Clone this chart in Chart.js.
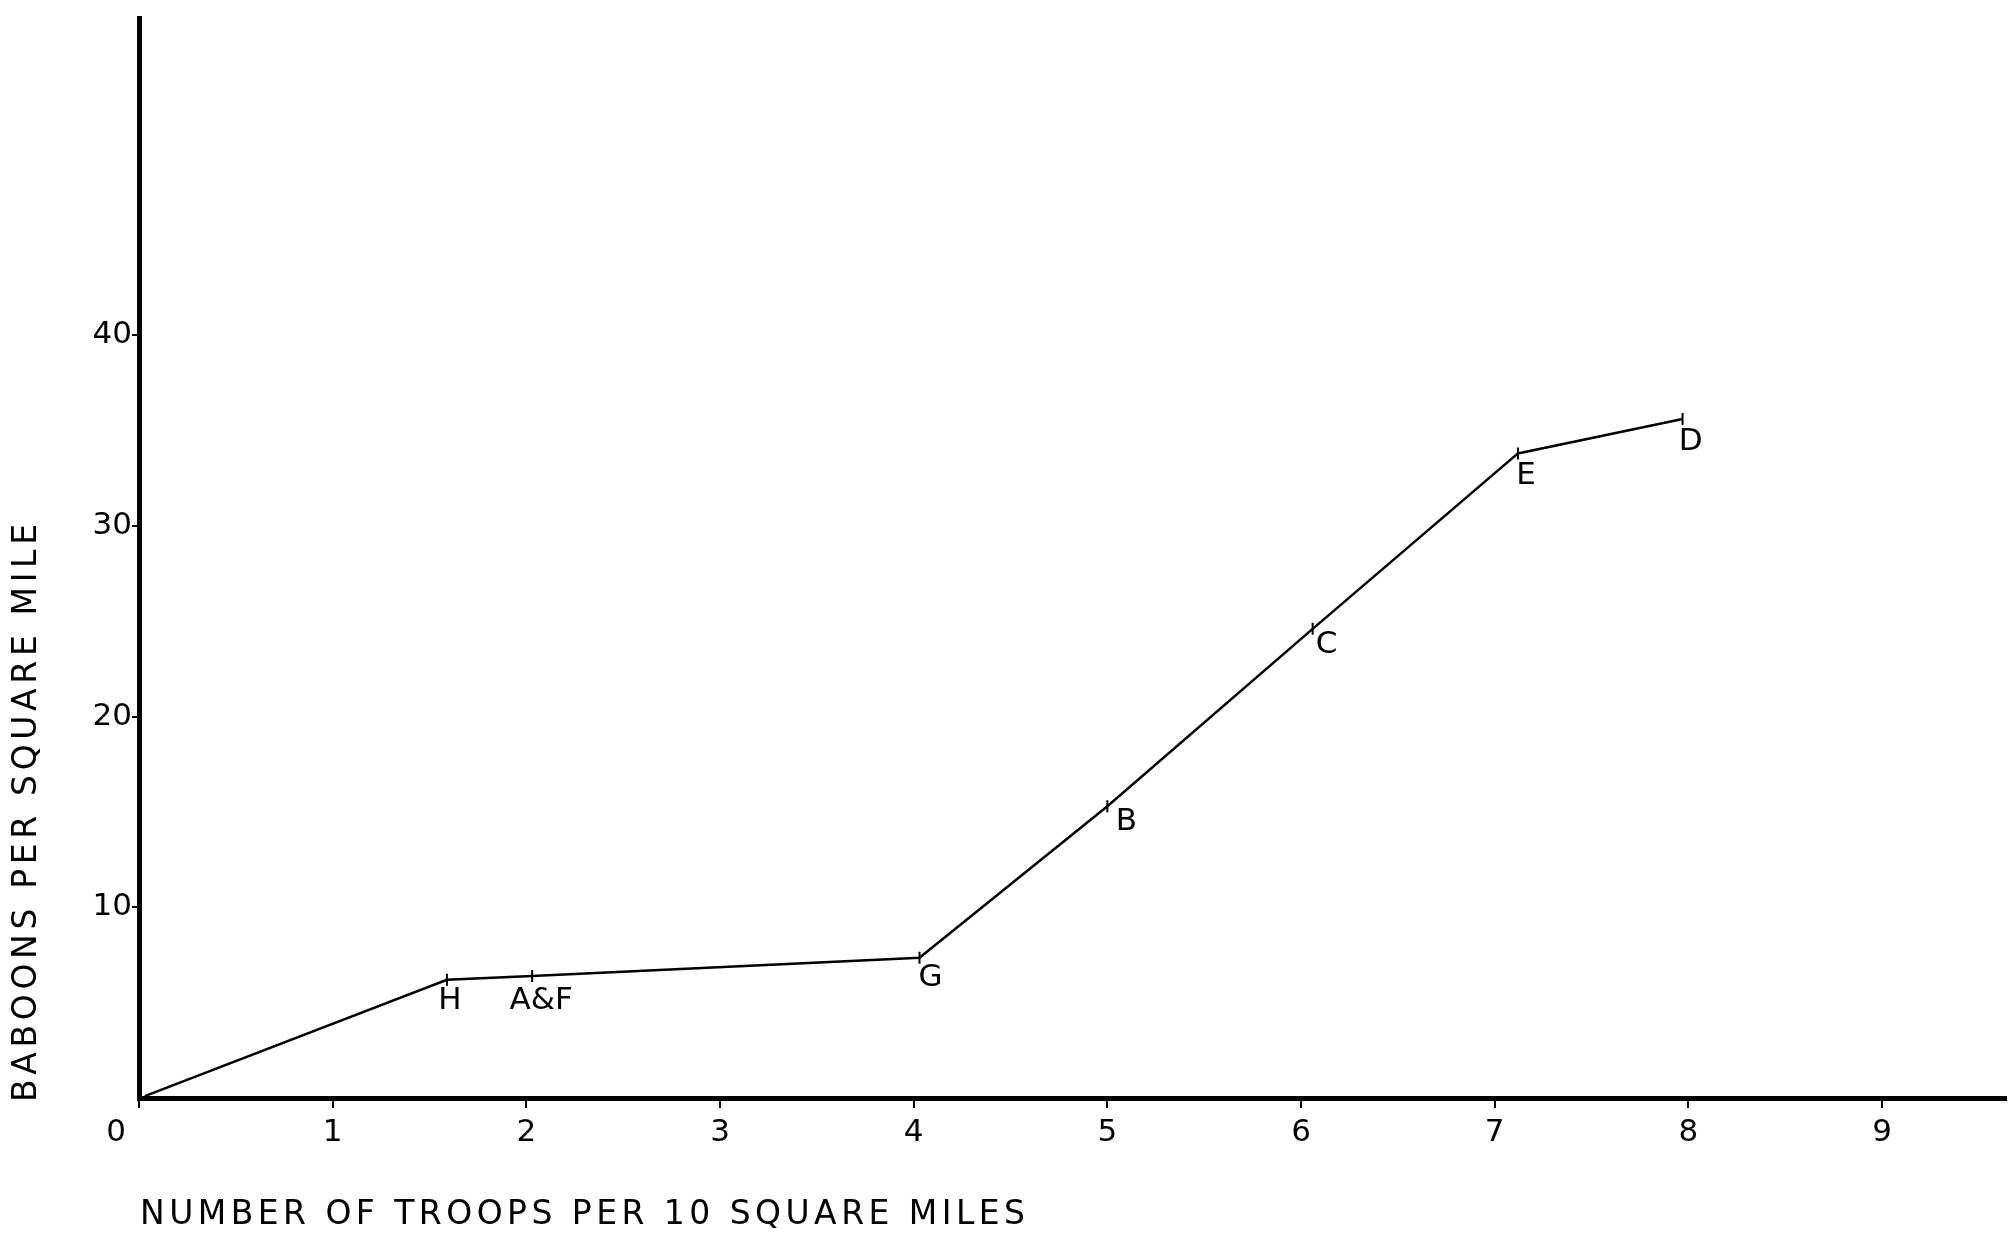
<!DOCTYPE html>
<html>
<head>
<meta charset="utf-8">
<script src="https://cdn.jsdelivr.net/npm/chart.js@4.4.1/dist/chart.umd.min.js"></script>
<style>
  html, body { margin: 0; padding: 0; background: #fff; }
  #wrap { width: 2014px; height: 1243px; }
</style>
</head>
<body>
<div id="wrap"><canvas id="c" width="2014" height="1243"></canvas></div>
<script>
// ---- data ----
const xValues = [0.03, 1.59, 2.03, 4.03, 5.0, 6.06, 7.12, 7.97];
const yValues = [0.1, 6.2, 6.4, 7.35, 15.3, 24.6, 33.8, 35.6];
const pointLabels = ['', 'H', 'A&F', 'G', 'B', 'C', 'E', 'D'];
const xTickValues = [0, 1, 2, 3, 4, 5, 6, 7, 8, 9];
const yTickValues = [10, 20, 30, 40];
const xTitle = 'NUMBER OF TROOPS PER 10 SQUARE MILES';
const yTitle = 'BABOONS PER SQUARE MILE';

// ---- style ----
const labelOffsets = [[0,0],[3,21],[9,25],[11,20],[19,16],[14,16],[8,23],[8,23]];
const FONT = '"DejaVu Sans", sans-serif';

const points = xValues.map((x, i) => ({ x: x, y: yValues[i] }));

function spacedText(ctx, text, x, y, targetWidth) {
  const chars = [...text];
  const widths = chars.map(c => ctx.measureText(c).width);
  const natural = widths.reduce((a, b) => a + b, 0);
  const gap = chars.length > 1 ? (targetWidth - natural) / (chars.length - 1) : 0;
  let cx = x;
  chars.forEach((c, i) => { ctx.fillText(c, cx, y); cx += widths[i] + gap; });
}

const annotate = {
  id: 'annotate',
  afterDraw(chart) {
    const ctx = chart.ctx;
    const xs = chart.scales.x, ys = chart.scales.y;
    ctx.save();
    ctx.fillStyle = '#000';
    // point labels
    ctx.font = '31px ' + FONT;
    ctx.textAlign = 'center';
    ctx.textBaseline = 'middle';
    pointLabels.forEach((lab, i) => {
      if (!lab) return;
      const px = xs.getPixelForValue(xValues[i]) + labelOffsets[i][0];
      const py = ys.getPixelForValue(yValues[i]) + labelOffsets[i][1];
      ctx.fillText(lab, px, py);
    });
    // origin "0" label
    ctx.font = '31px ' + FONT;
    ctx.fillText('0', xs.getPixelForValue(0) - 23, ys.getPixelForValue(0) + 35);
    // x title
    ctx.font = '33px ' + FONT;
    ctx.textAlign = 'left';
    ctx.textBaseline = 'middle';
    spacedText(ctx, xTitle, 140, 1215, 885);
    // y title (rotated)
    ctx.translate(27, 1102);
    ctx.rotate(-Math.PI / 2);
    spacedText(ctx, yTitle, 0, 0, 578);
    ctx.restore();
  }
};

new Chart(document.getElementById('c'), {
  type: 'scatter',
  data: {
    datasets: [{
      data: points,
      showLine: true,
      borderColor: '#000',
      borderWidth: 2.5,
      pointStyle: 'line',
      rotation: 90,
      pointRadius: points.map((p, i) => i === 0 ? 0 : 6),
      pointBorderColor: '#000',
      pointBorderWidth: 2,
      tension: 0
    }]
  },
  options: {
    responsive: false,
    animation: false,
    layout: { padding: { left: 0, top: 10, right: 8, bottom: 0 } },
    plugins: { legend: { display: false }, tooltip: { enabled: false }, title: { display: false } },
    scales: {
      x: {
        type: 'linear',
        min: 0,
        max: 9.64,
        afterBuildTicks: s => { s.ticks = xTickValues.map(v => ({ value: v })); },
        afterFit: s => { s.height = 145; },
        ticks: {
          color: '#000',
          font: { family: FONT, size: 31 },
          padding: 6,
          callback: v => v === 0 ? '' : String(v)
        },
        grid: { drawOnChartArea: false, drawTicks: true, tickLength: 10, color: '#000', lineWidth: 2 },
        border: { display: true, color: '#000', width: 5 }
      },
      y: {
        type: 'linear',
        min: 0,
        max: 56.6,
        afterBuildTicks: s => { s.ticks = yTickValues.map(v => ({ value: v })); },
        afterFit: s => { s.width = 139; },
        ticks: {
          color: '#000',
          font: { family: FONT, size: 31 },
          padding: 0,
          callback: v => String(v)
        },
        grid: { drawOnChartArea: false, drawTicks: true, tickLength: 7, color: '#000', lineWidth: 2 },
        border: { display: true, color: '#000', width: 5 }
      }
    }
  },
  plugins: [annotate]
});
</script>
</body>
</html>
